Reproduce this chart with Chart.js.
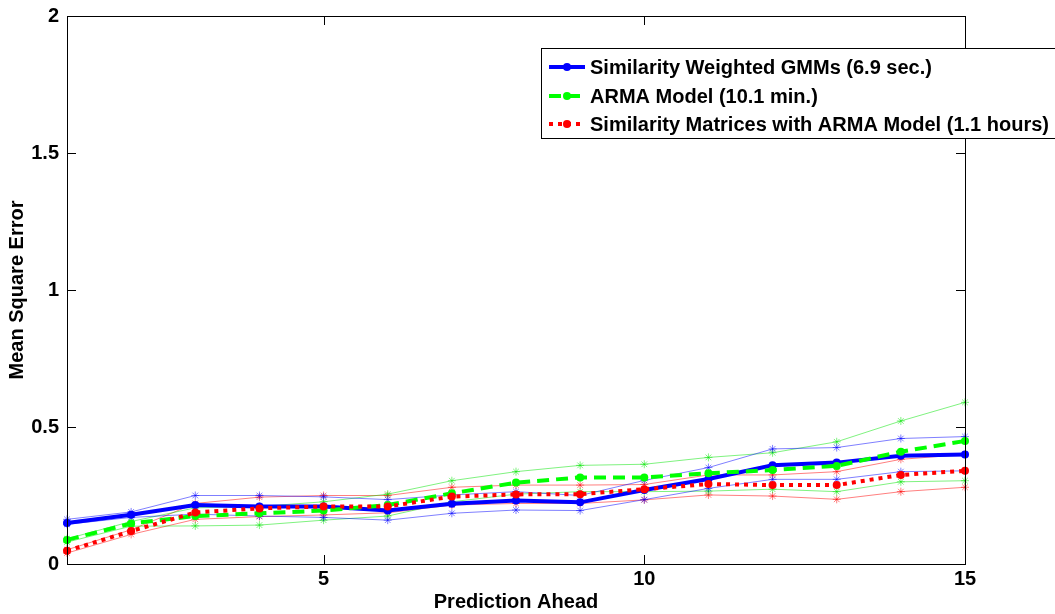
<!DOCTYPE html>
<html>
<head>
<meta charset="utf-8">
<script src="https://cdn.jsdelivr.net/npm/chart.js@4"></script>
<style>
html, body { margin: 0; padding: 0; background: #fff; }
#wrap { width: 1055px; height: 614px; }
</style>
</head>
<body>
<div id="wrap"><canvas id="myChart" width="1055" height="614"></canvas></div>
<script>
const steps = [1, 2, 3, 4, 5, 6, 7, 8, 9, 10, 11, 12, 13, 14, 15];
const xTicks = [5, 10, 15];
const yTicks = [0, 0.5, 1, 1.5, 2];

const gmmMean = [0.150, 0.180, 0.215, 0.210, 0.210, 0.195, 0.220, 0.232, 0.225, 0.270, 0.310, 0.360, 0.370, 0.395, 0.400];
const gmmHigh = [0.163, 0.190, 0.250, 0.250, 0.245, 0.235, 0.252, 0.264, 0.250, 0.305, 0.352, 0.420, 0.425, 0.458, 0.465];
const gmmLow  = [0.145, 0.170, 0.182, 0.175, 0.170, 0.160, 0.185, 0.197, 0.195, 0.235, 0.276, 0.309, 0.309, 0.337, 0.340];

const armaMean = [0.088, 0.148, 0.175, 0.185, 0.195, 0.215, 0.258, 0.297, 0.316, 0.316, 0.331, 0.343, 0.358, 0.410, 0.449];
const armaHigh = [0.092, 0.155, 0.205, 0.210, 0.227, 0.255, 0.304, 0.337, 0.360, 0.364, 0.389, 0.406, 0.446, 0.522, 0.590];
const armaLow  = [0.080, 0.138, 0.139, 0.142, 0.160, 0.175, 0.227, 0.255, 0.264, 0.264, 0.266, 0.273, 0.264, 0.300, 0.304];

const simMean = [0.048, 0.120, 0.188, 0.203, 0.210, 0.210, 0.246, 0.254, 0.255, 0.273, 0.292, 0.288, 0.288, 0.325, 0.340];
const simHigh = [0.052, 0.125, 0.221, 0.244, 0.250, 0.250, 0.280, 0.288, 0.288, 0.290, 0.325, 0.325, 0.337, 0.382, 0.400];
const simLow  = [0.040, 0.108, 0.163, 0.173, 0.179, 0.187, 0.215, 0.221, 0.221, 0.234, 0.252, 0.248, 0.236, 0.264, 0.280];

const legendLabels = [
    'Similarity Weighted GMMs (6.9 sec.)',
    'ARMA Model (10.1 min.)',
    'Similarity Matrices with ARMA Model (1.1 hours)'
];

const FONT = 'Arial, "Liberation Sans", Helvetica, sans-serif';

function toPoints(vals) {
    return vals.map((v, i) => ({ x: steps[i], y: v }));
}

function mainSet(label, vals, color, dash) {
    return {
        label: label,
        data: toPoints(vals),
        borderColor: color,
        backgroundColor: color,
        borderWidth: 4,
        borderDash: dash,
        pointStyle: 'circle',
        pointRadius: 4,
        pointBorderWidth: 0,
        tension: 0,
        clip: false
    };
}

function thinSet(vals, color) {
    return {
        label: '',
        data: toPoints(vals),
        borderColor: color,
        backgroundColor: color,
        borderWidth: 1,
        pointStyle: 'star',
        pointRadius: 4,
        pointBorderWidth: 1,
        tension: 0,
        clip: false
    };
}

const boxPlugin = {
    id: 'box',
    afterDatasetsDraw(chart) {
        const { ctx, chartArea: a, scales: { x, y } } = chart;
        ctx.save();
        ctx.strokeStyle = '#000';
        ctx.lineWidth = 1;
        ctx.strokeRect(a.left + 0.5, a.top + 0.5, a.right - a.left, a.bottom - a.top);
        ctx.beginPath();
        for (const v of yTicks) {
            const py = Math.round(y.getPixelForValue(v)) + 0.5;
            ctx.moveTo(a.left, py); ctx.lineTo(a.left + 9, py);
            ctx.moveTo(a.right, py); ctx.lineTo(a.right - 9, py);
        }
        for (const v of xTicks) {
            const px = Math.round(x.getPixelForValue(v)) + 0.5;
            ctx.moveTo(px, a.bottom); ctx.lineTo(px, a.bottom - 9);
            ctx.moveTo(px, a.top); ctx.lineTo(px, a.top + 9);
        }
        ctx.stroke();
        ctx.restore();
    }
};

// legend box sits in the upper right, partly cut off by the canvas edge
const legendPlugin = {
    id: 'boxLegend',
    afterDraw(chart) {
        const ctx = chart.ctx;
        const sets = chart.data.datasets;
        const left = 541, top = 48, bottom = 138;
        ctx.save();
        ctx.fillStyle = '#fff';
        ctx.fillRect(left, top, 600, bottom - top);
        ctx.strokeStyle = '#000';
        ctx.lineWidth = 1;
        ctx.strokeRect(left + 0.5, top + 0.5, 600, bottom - top);
        const rowsY = [67, 96, 124];
        // main datasets are stored red, green, blue -> legend goes blue, green, red
        const order = [2, 1, 0];
        ctx.font = 'bold 20px ' + FONT;
        ctx.textBaseline = 'middle';
        for (let r = 0; r < 3; r++) {
            const ds = sets[order[r]];
            const yy = rowsY[r];
            ctx.strokeStyle = ds.borderColor;
            ctx.lineWidth = 4;
            ctx.setLineDash(ds.borderDash || []);
            ctx.beginPath();
            ctx.moveTo(549, yy); ctx.lineTo(585, yy);
            ctx.stroke();
            ctx.setLineDash([]);
            ctx.fillStyle = ds.borderColor;
            ctx.beginPath();
            ctx.arc(567, yy, 4, 0, Math.PI * 2);
            ctx.fill();
            ctx.fillStyle = '#000';
            ctx.fillText(legendLabels[r], 590, yy + 1);
        }
        ctx.restore();
    }
};

const ctx = document.getElementById('myChart');

const chart = new Chart(ctx, {
    type: 'line',
    data: {
        datasets: [
            mainSet(legendLabels[2], simMean, '#FF0000', [4, 5]),
            mainSet(legendLabels[1], armaMean, '#00FF00', [12, 7]),
            mainSet(legendLabels[0], gmmMean, '#0000FF', []),
            thinSet(gmmHigh, 'rgba(0,0,255,0.5)'),
            thinSet(gmmLow, 'rgba(0,0,255,0.5)'),
            thinSet(armaHigh, 'rgba(0,230,0,0.5)'),
            thinSet(armaLow, 'rgba(0,230,0,0.5)'),
            thinSet(simHigh, 'rgba(255,0,0,0.5)'),
            thinSet(simLow, 'rgba(255,0,0,0.5)')
        ]
    },
    options: {
        responsive: false,
        animation: false,
        devicePixelRatio: 1,
        layout: { padding: { top: 16, right: 90, left: 0, bottom: 0 } },
        plugins: { legend: { display: false }, tooltip: { enabled: false } },
        scales: {
            x: {
                type: 'linear',
                min: 1,
                max: 15,
                afterBuildTicks: (s) => { s.ticks = xTicks.map(v => ({ value: v })); },
                afterFit: (s) => { s.height = 50; s.paddingLeft = 0; s.paddingRight = 0; },
                grid: { display: false, drawTicks: false },
                border: { display: false },
                ticks: {
                    color: '#000', padding: 3,
                    callback: (v) => String(v),
                    font: { family: FONT, size: 20, weight: 'bold' }
                },
                title: {
                    display: true,
                    text: 'Prediction Ahead',
                    color: '#000',
                    padding: { top: 0, bottom: 0 },
                    font: { family: FONT, size: 20, weight: 'bold' }
                }
            },
            y: {
                min: 0,
                max: 2,
                afterBuildTicks: (s) => { s.ticks = yTicks.map(v => ({ value: v })); },
                afterFit: (s) => { s.width = 67; s.paddingTop = 0; s.paddingBottom = 0; },
                grid: { display: false, drawTicks: false },
                border: { display: false },
                ticks: {
                    color: '#000', padding: 8,
                    callback: (v) => String(v),
                    font: { family: FONT, size: 20, weight: 'bold' }
                },
                title: {
                    display: true,
                    text: 'Mean Square Error',
                    color: '#000',
                    padding: { top: 5, bottom: 0 },
                    font: { family: FONT, size: 20, weight: 'bold' }
                }
            }
        }
    },
    plugins: [boxPlugin, legendPlugin]
});
</script>
</body>
</html>
